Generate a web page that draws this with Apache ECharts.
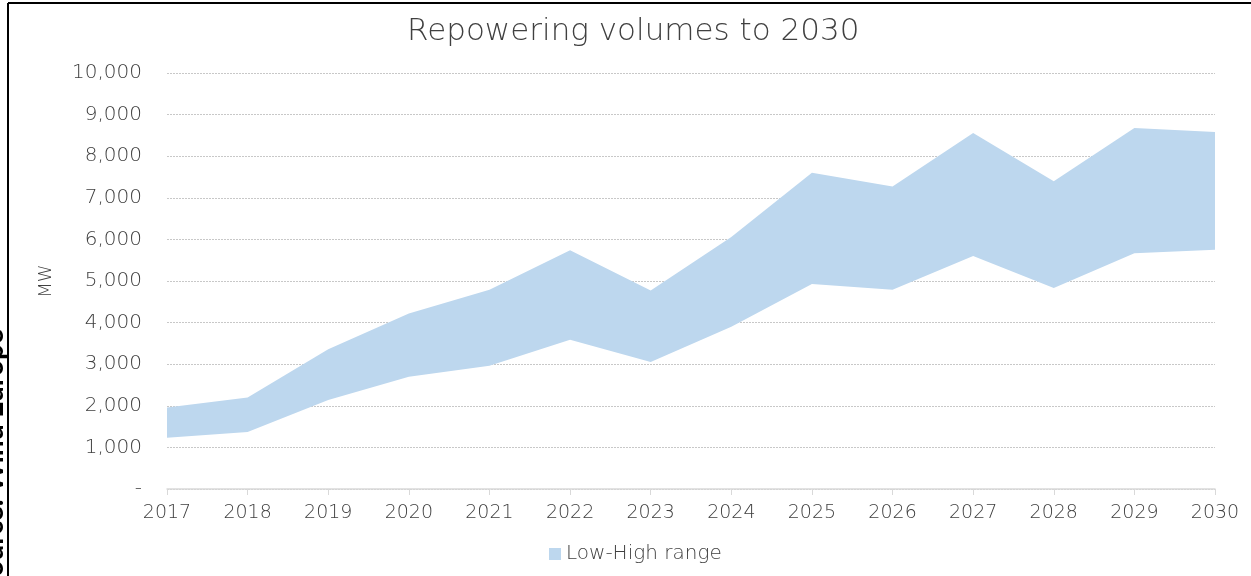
<!DOCTYPE html>
<html>
<head>
<meta charset="utf-8">
<title>Repowering volumes to 2030</title>
<script src="https://cdn.jsdelivr.net/npm/echarts@6/dist/echarts.min.js"></script>
<style>
  html, body { margin: 0; padding: 0; background: #fff; }
  #chart { width: 1251px; height: 576px; }
</style>
</head>
<body>
<div id="chart"></div>
<script>
// values (MW)
var years = ['2017', '2018', '2019', '2020', '2021', '2022', '2023', '2024', '2025', '2026', '2027', '2028', '2029', '2030']
var lowValues = [1230, 1370, 2140, 2700, 2960, 3590, 3050, 3900, 4930, 4790, 5600, 4830, 5670, 5750]
var highValues = [1960, 2200, 3360, 4220, 4790, 5740, 4770, 6060, 7600, 7270, 8560, 7400, 8680, 8580]
var yTicks = [0, 1000, 2000, 3000, 4000, 5000, 6000, 7000, 8000, 9000, 10000]

// the band is drawn as low + (high - low) stacked
var spread = highValues.map(function (v, i) { return v - lowValues[i] })

var chart = echarts.init(document.getElementById('chart'))
var font = '"DejaVu Sans", sans-serif'

chart.setOption({
  backgroundColor: '#fff',
  animation: false,
  textStyle: { fontFamily: font, fontWeight: 200 },
  title: {
    text: 'Repowering volumes to 2030',
    left: 402,
    top: 11,
    textStyle: { fontSize: 31, fontWeight: 200, color: '#404040', fontFamily: font }
  },
  legend: {
    bottom: 7,
    left: 544,
    data: ['Low-High range'],
    icon: 'rect',
    itemWidth: 12,
    itemHeight: 12,
    itemGap: 6,
    textStyle: { fontSize: 20, fontWeight: 200, color: '#404040' }
  },
  grid: { left: 167, right: 36, top: 73, bottom: 87 },
  xAxis: {
    type: 'category',
    data: years,
    boundaryGap: false,
    axisLine: { lineStyle: { color: '#d9d9d9', width: 1.5 } },
    axisTick: { show: true, length: 6, lineStyle: { color: '#d9d9d9' } },
    axisLabel: { fontSize: 19, fontWeight: 200, color: '#404040', margin: 15 }
  },
  yAxis: {
    type: 'value',
    min: 0,
    max: 10000,
    interval: 1000,
    name: 'MW',
    nameLocation: 'middle',
    nameGap: 112,
    nameTextStyle: { fontSize: 18, fontWeight: 200, color: '#404040' },
    axisLine: { show: false },
    axisTick: { show: false },
    axisLabel: {
      fontSize: 20,
      fontWeight: 200,
      color: '#404040',
      margin: 25,
      formatter: function (v) {
        if (yTicks.indexOf(v) < 0) return ''
        return v === 0 ? '-' : v.toLocaleString('en-US')
      }
    },
    splitLine: { lineStyle: { color: '#c8c8c8', type: [2, 1], width: 1 } }
  },
  series: [
    {
      name: 'Low',
      type: 'line',
      stack: 'band',
      data: lowValues,
      symbol: 'none',
      lineStyle: { width: 0 },
      areaStyle: { color: 'rgba(0,0,0,0)' },
      silent: true
    },
    {
      name: 'Low-High range',
      type: 'line',
      stack: 'band',
      data: spread,
      symbol: 'none',
      itemStyle: { color: '#bdd7ee' },
      lineStyle: { width: 0 },
      areaStyle: { color: '#bdd7ee', opacity: 1 }
    }
  ],
  graphic: [
    { type: 'line', shape: { x1: 8, y1: 3, x2: 1251, y2: 3 }, style: { stroke: '#000', lineWidth: 2 } },
    { type: 'line', shape: { x1: 8, y1: 3, x2: 8, y2: 576 }, style: { stroke: '#000', lineWidth: 2 } },
    {
      type: 'text',
      x: -6,
      y: 592,
      rotation: Math.PI / 2,
      style: {
        text: 'Source: Wind Europe',
        fontSize: 28,
        fontWeight: 'bold',
        fill: '#000',
        fontFamily: 'Lato, sans-serif',
        textAlign: 'left',
        textVerticalAlign: 'middle'
      }
    }
  ]
})
</script>
</body>
</html>
